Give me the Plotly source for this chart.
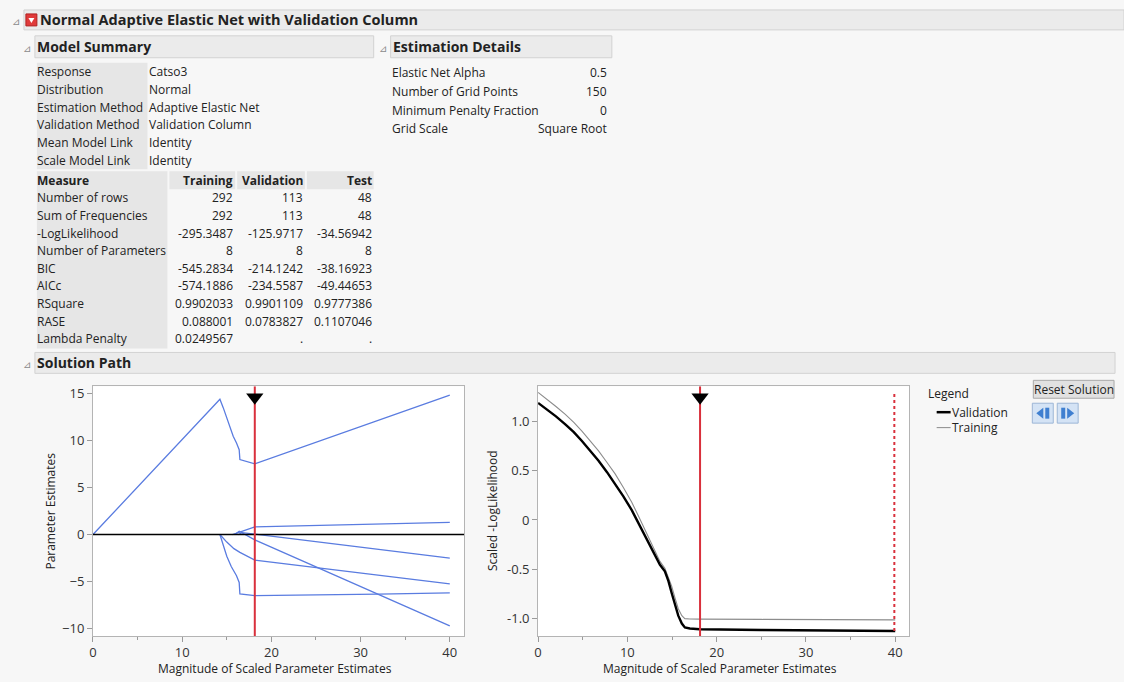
import plotly.graph_objects as go

W, H = 1124, 682
FONT = "Open Sans"

# ---------------- report text ----------------
report_title = "Normal Adaptive Elastic Net with Validation Column"

summary_labels = ["Response", "Distribution", "Estimation Method",
                  "Validation Method", "Mean Model Link", "Scale Model Link"]
summary_values = ["Catso3", "Normal", "Adaptive Elastic Net",
                  "Validation Column", "Identity", "Identity"]

measure_cols = ["Measure", "Training", "Validation", "Test"]
measure_labels = ["Number of rows", "Sum of Frequencies", "-LogLikelihood",
                  "Number of Parameters", "BIC", "AICc", "RSquare", "RASE",
                  "Lambda Penalty"]
training_vals = ["292", "292", "-295.3487", "8", "-545.2834", "-574.1886",
                 "0.9902033", "0.088001", "0.0249567"]
validation_vals = ["113", "113", "-125.9717", "8", "-214.1242", "-234.5587",
                   "0.9901109", "0.0783827", "."]
test_vals = ["48", "48", "-34.56942", "8", "-38.16923", "-49.44653",
             "0.9777386", "0.1107046", "."]

details_labels = ["Elastic Net Alpha", "Number of Grid Points",
                  "Minimum Penalty Fraction", "Grid Scale"]
details_values = ["0.5", "150", "0", "Square Root"]

# ---------------- solution path data ----------------
# parameter estimate paths vs. magnitude of scaled parameter estimates
path1_x = [0, 14.23, 14.6, 14.97, 15.35, 15.72, 16.09, 16.39, 16.47, 18.14, 40]
path1_y = [0, 14.4, 13.5, 12.56, 11.5, 10.45, 9.74, 9.03, 7.98, 7.52, 14.82]
path2_x = [14.23, 14.6, 15.0, 15.5, 16.09, 16.39, 16.47, 18.14, 25, 32, 40]
path2_y = [0, -1.2, -2.3, -3.4, -4.38, -5.09, -6.32, -6.5, -6.45, -6.33, -6.2]
path3_x = [14.23, 15.0, 15.8, 16.47, 18.14, 25, 32, 40]
path3_y = [0, -0.8, -1.5, -1.9, -2.72, -3.5, -4.32, -5.25]
path4_x = [15.64, 18.14, 40]
path4_y = [0, 0.81, 1.3]
path5_x = [15.9, 16.39, 18.14, 40]
path5_y = [0, 0.35, -0.56, -9.72]
path6_x = [16.3, 16.7, 18.14, 40]
path6_y = [0, 0.2, 0.05, -2.5]
param_paths = [(path1_x, path1_y), (path2_x, path2_y), (path3_x, path3_y),
               (path4_x, path4_y), (path5_x, path5_y), (path6_x, path6_y)]

# scaled -loglikelihood curves
loglik_x = [0, 1, 2, 3.05, 4.0, 4.91, 5.8, 6.77, 7.7, 8.63, 9.55, 10.49,
            11.4, 12.35, 13.0, 13.65, 14.2, 14.6, 14.96, 15.3, 15.7, 16.1,
            16.44, 17, 18.1, 25, 32, 40]
validation_y = [1.187, 1.12, 1.05, 0.97, 0.89, 0.80, 0.705, 0.60, 0.487,
                0.367, 0.24, 0.10, -0.06, -0.236, -0.34, -0.454, -0.52,
                -0.62, -0.74, -0.85, -0.97, -1.05, -1.09, -1.10, -1.107,
                -1.115, -1.12, -1.125]
training_y = [1.294, 1.225, 1.15, 1.07, 0.99, 0.90, 0.805, 0.70, 0.585,
              0.467, 0.33, 0.18, 0.01, -0.17, -0.29, -0.42, -0.49, -0.58,
              -0.67, -0.78, -0.90, -0.97, -1.0, -1.003, -1.005, -1.008,
              -1.01, -1.013]

selected_magnitude = 18.14
max_magnitude = 39.9

# axis ranges
left_xrange = [0, 41.6]
left_yrange = [-10.78, 15.77]
right_xrange = [0, 41.55]
right_yrange = [-1.175, 1.355]

BLUE = "#5a7ce0"
RED = "#d9303c"
TXT = "#222222"
TS = 12   # table text size

shapes = []
annotations = []


def px(x):
    return x / W


def py(y):
    return 1 - y / H


def text(x, y, s, size=TS, bold=False, anchor="left", color=TXT, angle=0):
    annotations.append(dict(
        x=px(x), y=py(y), xref="paper", yref="paper",
        text=f"<b>{s}</b>" if bold else s, showarrow=False,
        xanchor=anchor, yanchor="middle", textangle=angle,
        borderpad=0, borderwidth=0,
        font=dict(size=size, color=color, family=FONT)))


def rect(x0, y0, x1, y1, fill, line=None):
    shapes.append(dict(
        type="rect", xref="paper", yref="paper",
        x0=px(x0), x1=px(x1), y0=py(y1), y1=py(y0),
        fillcolor=fill, layer="below",
        line=dict(width=1 if line else 0, color=line or fill)))


def poly(points, fill, line=None):
    d = "M " + " L ".join(f"{px(a)} {py(b)}" for a, b in points) + " Z"
    shapes.append(dict(type="path", xref="paper", yref="paper", path=d,
                       fillcolor=fill, line=dict(width=1 if line else 0,
                                                 color=line or fill)))


def outline_header(x0, y0, x1, y1, label, size=14, tx=None):
    rect(x0, y0, x1, y1, "#ebebeb", "#d2d2d2")
    text(tx if tx is not None else x0 + 2, (y0 + y1) / 2, label,
         size=size, bold=True)
    text(x0 - 12, (y0 + y1) / 2 + 1, "⊿", size=10, color="#8a8a8a")


# ---------------- report frame ----------------
outline_header(20, 8, 1124, 28, report_title, size=14.5, tx=36)
# red hotspot menu icon
rect(22, 12, 33, 24, "#e03a3a", "#b02020")
poly([(24.5, 16), (30.5, 16), (27.5, 21)], "white")

outline_header(31, 34, 371, 56, "Model Summary")
outline_header(388, 34, 610, 56, "Estimation Details")
outline_header(31, 352, 1115, 373, "Solution Path")

# model summary key/value list
row_y0, row_dy = 70, 17.8
rect(33, 61, 144, 168, "#e6e6e6")
for i, (lab, val) in enumerate(zip(summary_labels, summary_values)):
    y = row_y0 + i * row_dy
    text(33, y, lab)
    text(146, y, val)

# measure table
tab_y0, tab_dy = 179, 17.7
rect(33, 170, 164, 348, "#e6e6e6")
rect(166, 170, 232, 188, "#e6e6e6")
rect(234, 170, 302, 188, "#e6e6e6")
rect(304, 170, 371, 188, "#e6e6e6")
text(33, tab_y0, measure_cols[0], bold=True)
for name, xr in zip(measure_cols[1:], [230, 300, 369]):
    text(xr, tab_y0, name, bold=True, anchor="right")
for i, lab in enumerate(measure_labels):
    y = tab_y0 + (i + 1) * tab_dy
    text(33, y, lab)
    text(230, y, training_vals[i], anchor="right")
    text(300, y, validation_vals[i], anchor="right")
    text(369, y, test_vals[i], anchor="right")

# estimation details
for i, (lab, val) in enumerate(zip(details_labels, details_values)):
    y = 71 + i * 18.8
    text(389, y, lab)
    text(605, y, val, anchor="right")

# legend
text(927, 393, "Legend")
shapes.append(dict(type="line", xref="paper", yref="paper",
                   x0=px(936), x1=px(950), y0=py(412), y1=py(412),
                   line=dict(color="black", width=2.5)))
text(951, 412, "Validation")
shapes.append(dict(type="line", xref="paper", yref="paper",
                   x0=px(936), x1=px(950), y0=py(427.5), y1=py(427.5),
                   line=dict(color="#8c8c8c", width=1)))
text(951, 427.5, "Training")

# Reset Solution button and step buttons
rect(1033, 380, 1114, 398, "#e1e1e1", "#a9a9a9")
text(1073.5, 389, "Reset Solution", anchor="center")
rect(1032, 403, 1053, 423, "#d4e3f5", "#9db6d6")
poly([(1036, 413), (1043, 407.5), (1043, 418.5)], "#3f7fd0")
rect(1045, 407.5, 1049, 418.5, "#3f7fd0")
rect(1057, 403, 1078, 423, "#d4e3f5", "#9db6d6")
rect(1061, 407.5, 1065, 418.5, "#3f7fd0")
poly([(1074, 413), (1067, 407.5), (1067, 418.5)], "#3f7fd0")

# axis titles
text(272, 669, "Magnitude of Scaled Parameter Estimates", size=12,
     anchor="center")
text(719, 669, "Magnitude of Scaled Parameter Estimates", size=12,
     anchor="center")
text(47, 511, "Parameter Estimates", size=12, anchor="center", angle=-90)
text(490, 511, "Scaled -LogLikelihood", size=12, anchor="center", angle=-90)

# ---------------- plots ----------------
fig = go.Figure()

for xs, ys in param_paths:
    fig.add_trace(go.Scatter(x=xs, y=ys, mode="lines", xaxis="x", yaxis="y",
                             line=dict(color=BLUE, width=1.3),
                             hoverinfo="skip", showlegend=False))
fig.add_trace(go.Scatter(x=left_xrange, y=[0, 0], mode="lines", xaxis="x",
                         yaxis="y", line=dict(color="black", width=1.5),
                         hoverinfo="skip", showlegend=False))

fig.add_trace(go.Scatter(x=loglik_x, y=training_y, mode="lines", xaxis="x2",
                         yaxis="y2", line=dict(color="#8c8c8c", width=1.1),
                         name="Training", showlegend=False))
fig.add_trace(go.Scatter(x=loglik_x, y=validation_y, mode="lines", xaxis="x2",
                         yaxis="y2", line=dict(color="black", width=2.4),
                         name="Validation", showlegend=False))

# full-path end marker (dotted) and selected solution (solid)
fig.add_trace(go.Scatter(x=[max_magnitude, max_magnitude],
                         y=[validation_y[-1], 1.3], mode="lines",
                         xaxis="x2", yaxis="y2",
                         line=dict(color=RED, width=2, dash="dot"),
                         hoverinfo="skip", showlegend=False))
for xa, ya, yr, tri in [("x", "y", left_yrange, 14.6),
                        ("x2", "y2", right_yrange, 1.245)]:
    fig.add_trace(go.Scatter(x=[selected_magnitude, selected_magnitude],
                             y=yr, mode="lines", xaxis=xa, yaxis=ya,
                             line=dict(color=RED, width=2),
                             hoverinfo="skip", showlegend=False))
    fig.add_trace(go.Scatter(x=[selected_magnitude], y=[tri], mode="markers",
                             xaxis=xa, yaxis=ya, cliponaxis=False,
                             marker=dict(symbol="triangle-down", size=15,
                                         color="black"),
                             hoverinfo="skip", showlegend=False))

axis_common = dict(showline=True, mirror=True, linecolor="#b4b4b4",
                   linewidth=1, ticks="outside", ticklen=5, tickcolor="#9a9a9a",
                   showgrid=False, zeroline=False,
                   tickfont=dict(family=FONT, size=13, color="#333333"))
xminor = dict(dtick=5, ticks="outside", ticklen=3, tickcolor="#9a9a9a")

left_dom_x = [px(89.3), px(461.7)]
right_dom_x = [px(536), px(908.3)]
dom_y = [py(636.7), py(386)]

fig.update_layout(
    width=W, height=H,
    margin=dict(l=0, r=0, t=0, b=0),
    paper_bgcolor="#f7f7f7", plot_bgcolor="white",
    shapes=shapes, annotations=annotations, showlegend=False,
    xaxis=dict(domain=left_dom_x, range=left_xrange, dtick=10,
               minor=xminor, anchor="y", **axis_common),
    yaxis=dict(domain=dom_y, range=left_yrange, dtick=5, anchor="x",
               **axis_common),
    xaxis2=dict(domain=right_dom_x, range=right_xrange, dtick=10,
                minor=xminor, anchor="y2", **axis_common),
    yaxis2=dict(domain=dom_y, range=right_yrange, anchor="x2",
                tickvals=[-1, -0.5, 0, 0.5, 1],
                ticktext=["-1.0", "-0.5", "0", "0.5", "1.0"],
                **axis_common),
)

fig.write_html("out.html")
